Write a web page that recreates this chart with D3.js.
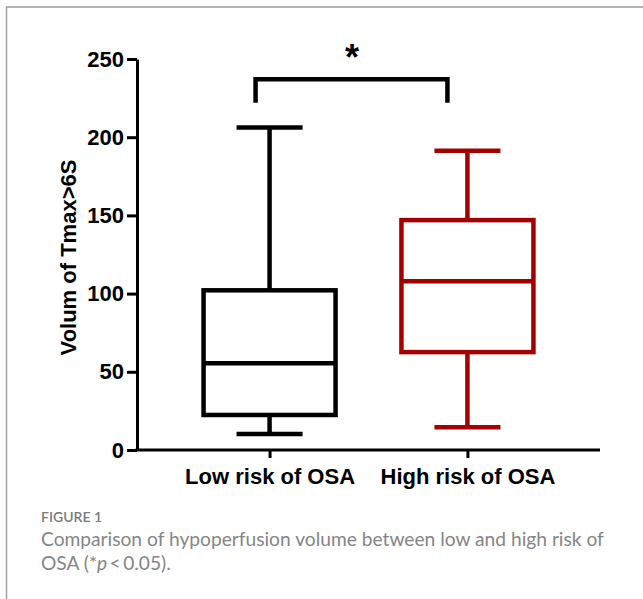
<!DOCTYPE html>
<html>
<head>
<meta charset="utf-8">
<script src="https://cdn.jsdelivr.net/npm/d3@7"></script>
<style>
  html, body { margin: 0; padding: 0; background: #fff; }
  svg { display: block; }
</style>
</head>
<body>
<script>
const categories = ["Low risk of OSA", "High risk of OSA"];
const whiskerMin = [10.3, 14.5];
const q1 = [22.4, 62.6];
const median = [55.5, 107.9];
const q3 = [102.1, 147.0];
const whiskerMax = [206.2, 191.4];
const boxColors = ["#000000", "#a30000"];
const yTicks = [0, 50, 100, 150, 200, 250];
const yLabel = "Volum of Tmax>6S";
const sigLabel = "*";
const bracketValues = [222, 237];
const captionTitle = "FIGURE 1";
const captionLine1 = "Comparison of hypoperfusion volume between low and high risk of";

const W = 643, H = 599;
const svg = d3.select("body").append("svg").attr("width", W).attr("height", H);

// page frame
svg.append("line").attr("x1", 6).attr("x2", W).attr("y1", 7).attr("y2", 7)
  .attr("stroke", "#b3b3b3").attr("stroke-width", 2);
svg.append("line").attr("x1", 6.5).attr("x2", 6.5).attr("y1", 7).attr("y2", H)
  .attr("stroke", "#a0a0a0").attr("stroke-width", 1.5);

const x0 = 137, x1 = 600, yTop = 59, yBot = 450;
const y = d3.scaleLinear().domain([0, 250]).range([yBot, yTop]);
const x = d3.scalePoint().domain(categories).range([x0, x1]).padding(0.67);

const font = "'Liberation Sans', Arial, Helvetica, sans-serif";

// y axis
const yAxis = svg.append("g").attr("transform", `translate(${x0},0)`)
  .call(d3.axisLeft(y).tickValues(yTicks).tickSize(10).tickPadding(3).tickSizeOuter(0));
yAxis.select(".domain").attr("stroke", "#000").attr("stroke-width", 3);
yAxis.selectAll(".tick line").attr("stroke", "#000").attr("stroke-width", 3);
yAxis.selectAll(".tick text").attr("font-family", font).attr("font-weight", "bold")
  .attr("font-size", 22).attr("fill", "#000");

// x axis
const xAxis = svg.append("g").attr("transform", `translate(0,${yBot})`)
  .call(d3.axisBottom(x).tickSize(8).tickPadding(6).tickSizeOuter(0));
xAxis.select(".domain").attr("stroke", "#000").attr("stroke-width", 3)
  .attr("d", `M${x0 - 1.5},0H${x1}`);
xAxis.selectAll(".tick line").attr("stroke", "#000").attr("stroke-width", 3);
xAxis.selectAll(".tick text").attr("font-family", font).attr("font-weight", "bold")
  .attr("font-size", 22).attr("fill", "#000").attr("dy", "0.9em");

// y label
svg.append("text")
  .attr("transform", `translate(76,${(yTop + yBot) / 2 + 3}) rotate(-90)`)
  .attr("text-anchor", "middle")
  .attr("font-family", font).attr("font-weight", "bold").attr("font-size", 22)
  .text(yLabel);

// boxes
const boxW = 132, capW = 66, sw = 4.5;
const data = categories.map((c, i) => ({
  c, min: whiskerMin[i], q1: q1[i], med: median[i], q3: q3[i], max: whiskerMax[i], color: boxColors[i]
}));
const g = svg.append("g").selectAll("g").data(data).join("g")
  .attr("stroke", d => d.color).attr("stroke-width", sw).attr("fill", "none");
g.append("line").attr("x1", d => x(d.c)).attr("x2", d => x(d.c))
  .attr("y1", d => y(d.max)).attr("y2", d => y(d.q3));
g.append("line").attr("x1", d => x(d.c)).attr("x2", d => x(d.c))
  .attr("y1", d => y(d.q1)).attr("y2", d => y(d.min));
g.append("line").attr("x1", d => x(d.c) - capW / 2).attr("x2", d => x(d.c) + capW / 2)
  .attr("y1", d => y(d.max)).attr("y2", d => y(d.max));
g.append("line").attr("x1", d => x(d.c) - capW / 2).attr("x2", d => x(d.c) + capW / 2)
  .attr("y1", d => y(d.min)).attr("y2", d => y(d.min));
g.append("rect").attr("x", d => x(d.c) - boxW / 2).attr("width", boxW)
  .attr("y", d => y(d.q3)).attr("height", d => y(d.q1) - y(d.q3)).attr("fill", "#fff");
g.append("line").attr("x1", d => x(d.c) - boxW / 2).attr("x2", d => x(d.c) + boxW / 2)
  .attr("y1", d => y(d.med)).attr("y2", d => y(d.med));

// significance bracket
const bx1 = x(categories[0]) - 14, bx2 = x(categories[1]) - 20;
const bBot = y(bracketValues[0]), bTop = y(bracketValues[1]);
svg.append("path")
  .attr("d", `M${bx1},${bBot}V${bTop}H${bx2}V${bBot}`)
  .attr("fill", "none").attr("stroke", "#000").attr("stroke-width", 4.5);
svg.append("text")
  .attr("x", (bx1 + bx2) / 2 + 0.5).attr("y", 70)
  .attr("text-anchor", "middle")
  .attr("font-family", font).attr("font-weight", "bold").attr("font-size", 36)
  .text(sigLabel);

// caption
const capFont = "Lato, 'Open Sans', sans-serif";
svg.append("text").attr("x", 41).attr("y", 522)
  .attr("font-family", capFont).attr("font-size", 14).attr("font-weight", 600)
  .attr("fill", "#7a7a7a").text(captionTitle);
svg.append("text").attr("x", 41).attr("y", 546)
  .attr("font-family", capFont).attr("font-size", 19.2).attr("fill", "#858585")
  .text(captionLine1);
const l2 = svg.append("text").attr("x", 41).attr("y", 570)
  .attr("font-family", capFont).attr("font-size", 19.2).attr("fill", "#858585");
l2.append("tspan").text("OSA (*");
l2.append("tspan").attr("font-style", "italic").text("p");
l2.append("tspan").text("\u2009<\u20090.05).");
</script>
</body>
</html>
